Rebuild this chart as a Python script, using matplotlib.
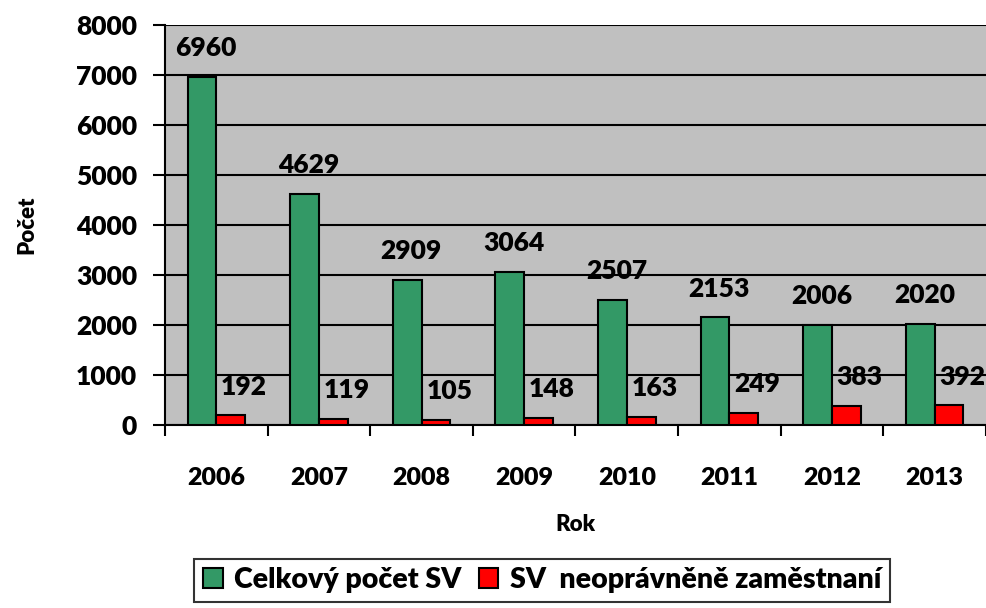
import numpy as np
import matplotlib.pyplot as plt
from matplotlib.ticker import FixedLocator

plt.rcParams['font.family'] = 'Lato'
plt.rcParams['font.weight'] = 'heavy'
W = 'heavy'

roky = ['2006', '2007', '2008', '2009', '2010', '2011', '2012', '2013']
celkem = [6960, 4629, 2909, 3064, 2507, 2153, 2006, 2020]
neopravnene = [192, 119, 105, 148, 163, 249, 383, 392]

fig = plt.figure(figsize=(9.86, 6.08), dpi=100)
ax = fig.add_axes([0.1673, 0.301, 0.8327, 0.658])
ax.set_facecolor('#C0C0C0')

x = np.arange(len(roky)) + 0.5
w = 0.28
b1 = ax.bar(x - w / 2, celkem, w, color='#339966', edgecolor='black', linewidth=1.5,
            label='Celkový počet SV', zorder=3)
b2 = ax.bar(x + w / 2, neopravnene, w, color='#FF0000', edgecolor='black', linewidth=1.5,
            label='SV  neoprávněně zaměstnaní', zorder=3)

for xi, v in zip(x, celkem):
    ax.annotate(str(v), (xi - w / 2 + 0.04, v), xytext=(0, 12), textcoords='offset points',
                ha='center', va='bottom', fontsize=19, weight=W, zorder=4)
for xi, v in zip(x, neopravnene):
    ax.annotate(str(v), (xi + w / 2 + 0.13, v), xytext=(0, 12), textcoords='offset points',
                ha='center', va='bottom', fontsize=19, weight=W, zorder=4,
                annotation_clip=False)

ax.set_xlim(0, len(roky))
ax.set_ylim(0, 8000)
ax.set_yticks(range(0, 8001, 1000))
ax.yaxis.grid(True, color='black', linewidth=1.5, zorder=1)
ax.set_axisbelow(True)

ax.set_xticks(x)
ax.set_xticklabels(roky, fontsize=18, weight=W)
ax.set_yticklabels([str(v) for v in range(0, 8001, 1000)], fontsize=19, weight=W)
ax.xaxis.set_minor_locator(FixedLocator(np.arange(0, len(roky) + 1)))
ax.tick_params(axis='x', which='major', length=0, pad=30)
ax.tick_params(axis='x', which='minor', length=8, width=1.5, direction='out')
ax.tick_params(axis='y', length=9, width=1.5, direction='out', pad=11)

for s in ['top', 'right']:
    ax.spines[s].set_visible(False)
ax.spines['left'].set_linewidth(1.5)
ax.spines['bottom'].set_linewidth(1.5)

ax.set_xlabel('Rok', fontsize=16, weight=W, labelpad=18)
ax.set_ylabel('Počet', fontsize=16, weight=W, labelpad=28)

leg = fig.legend(loc='upper left', bbox_to_anchor=(0.197, 0.081), ncol=2,
                 frameon=True, fancybox=False, edgecolor='black', handlelength=0.7,
                 handleheight=0.7, handletextpad=0.4, columnspacing=0.6, borderpad=0.3,
                 borderaxespad=0, prop={'family': 'Lato', 'weight': W, 'size': 20.5})
leg.get_frame().set_linewidth(1.5)

fig.savefig('out.png', dpi=100)
